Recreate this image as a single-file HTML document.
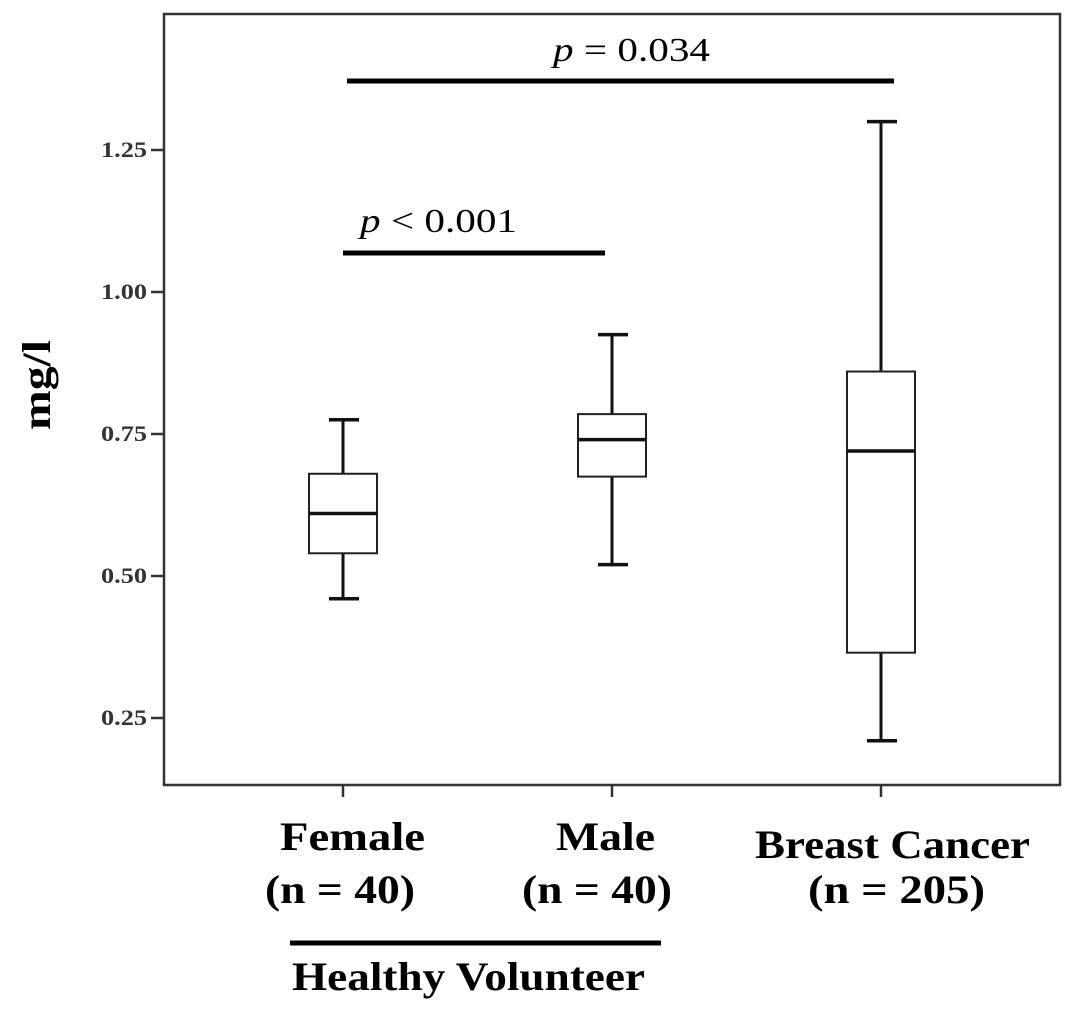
<!DOCTYPE html>
<html><head><meta charset="utf-8"><style>
body{margin:0;background:#fff}
svg text{font-family:"Liberation Serif",serif}
</style></head><body>
<svg width="1087" height="1023" viewBox="0 0 1087 1023">
<rect x="0" y="0" width="1087" height="1023" fill="#fff"/>
<rect x="164" y="14" width="896" height="771" fill="none" stroke="#333" stroke-width="2.5"/>
<g id="yaxis"></g>
<g id="boxes"></g>
<text x="50" y="385" transform="rotate(-90 50 385)" text-anchor="middle" font-size="40" font-weight="bold" textLength="90" lengthAdjust="spacingAndGlyphs">mg/l</text>
<line x1="343" y1="253" x2="605" y2="253" stroke="#000" stroke-width="5"/>
<text x="360" y="232" font-size="34" textLength="157" lengthAdjust="spacingAndGlyphs"><tspan font-style="italic">p</tspan> &lt; 0.001</text>
<line x1="347" y1="81" x2="894" y2="81" stroke="#000" stroke-width="5"/>
<text x="553" y="61" font-size="34" textLength="157" lengthAdjust="spacingAndGlyphs"><tspan font-style="italic">p</tspan> = 0.034</text>
<g font-size="40" font-weight="bold" lengthAdjust="spacingAndGlyphs">
<text x="280" y="850" textLength="145" lengthAdjust="spacingAndGlyphs">Female</text>
<text x="265" y="903" textLength="150" lengthAdjust="spacingAndGlyphs">(n = 40)</text>
<text x="556" y="850" textLength="99" lengthAdjust="spacingAndGlyphs">Male</text>
<text x="522" y="903" textLength="150" lengthAdjust="spacingAndGlyphs">(n = 40)</text>
<text x="755" y="858" textLength="275" lengthAdjust="spacingAndGlyphs">Breast Cancer</text>
<text x="808" y="903" textLength="177" lengthAdjust="spacingAndGlyphs">(n = 205)</text>
<text x="292" y="990" textLength="353" lengthAdjust="spacingAndGlyphs">Healthy Volunteer</text>
</g>
<line x1="290" y1="943" x2="661" y2="943" stroke="#000" stroke-width="5"/>
</svg>
<script>
const categories=["Female","Male","Breast Cancer"];
const whiskerLow=[0.46,0.52,0.21];
const q1=[0.54,0.675,0.365];
const median=[0.61,0.74,0.72];
const q3=[0.68,0.785,0.86];
const whiskerHigh=[0.775,0.925,1.30];
const yTicks=[0.25,0.50,0.75,1.00,1.25];
const yTickLabels=["0.25","0.50","0.75","1.00","1.25"];
const NS="http://www.w3.org/2000/svg";
function y(v){return 718-(v-0.25)*568;}
function x(i){return 343+i*269;}
function mk(tag,attrs,parent){const e=document.createElementNS(NS,tag);for(const k in attrs)e.setAttribute(k,attrs[k]);parent.appendChild(e);return e;}
const ya=document.getElementById('yaxis');
yTicks.forEach((t,i)=>{
 const l=mk('line',{x1:151,x2:164,y1:y(t),y2:y(t),stroke:'#333','stroke-width':2.5},ya);
 
 
 const tx=mk('text',{x:101,y:y(t)+7,'font-size':22,'font-weight':'bold',fill:'#333',textLength:46,lengthAdjust:'spacingAndGlyphs'},ya);
 tx.textContent=yTickLabels[i];
 
 
});
const bx=document.getElementById('boxes');
categories.forEach((c,i)=>{
 const cx=x(i);
 const g=mk('g',{},bx);
 
 
 mk('line',{x1:cx,x2:cx,y1:785,y2:797,stroke:'#333','stroke-width':2.5},g);
 mk('line',{x1:cx,x2:cx,y1:y(whiskerHigh[i]),y2:y(q3[i]),stroke:'#111','stroke-width':3},g);
 mk('line',{x1:cx,x2:cx,y1:y(q1[i]),y2:y(whiskerLow[i]),stroke:'#111','stroke-width':3},g);
 mk('line',{x1:cx-14,x2:cx+16,y1:y(whiskerHigh[i]),y2:y(whiskerHigh[i]),stroke:'#111','stroke-width':3.5},g);
 mk('line',{x1:cx-14,x2:cx+16,y1:y(whiskerLow[i]),y2:y(whiskerLow[i]),stroke:'#111','stroke-width':3.5},g);
 mk('rect',{x:cx-34,y:y(q3[i]),width:68,height:y(q1[i])-y(q3[i]),fill:'#fff',stroke:'#222','stroke-width':2},g);
 mk('line',{x1:cx-34,x2:cx+34,y1:y(median[i]),y2:y(median[i]),stroke:'#111','stroke-width':3.5},g);
});
</script>
</body></html>
